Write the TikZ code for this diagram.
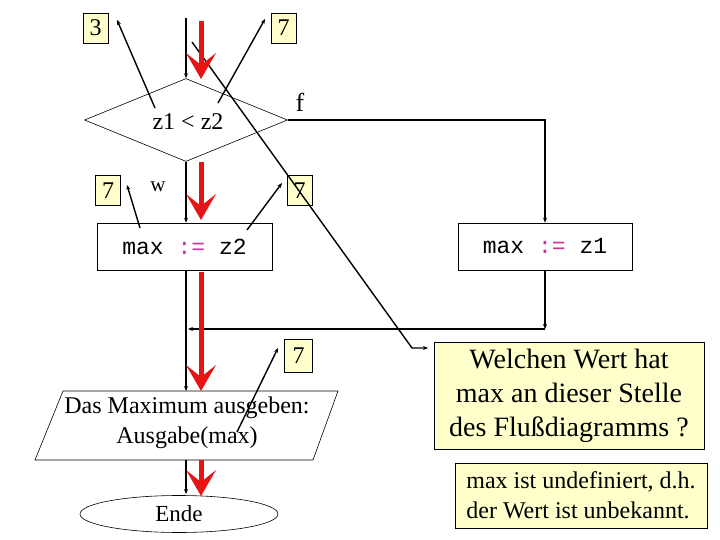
\documentclass[tikz,border=0pt]{standalone}
\usepackage{fontspec}
\setmainfont{Liberation Serif}
\setmonofont{Liberation Mono}
\usetikzlibrary{shapes.geometric,arrows.meta}
\definecolor{note}{HTML}{FFFFCC}
\definecolor{assign}{HTML}{CC3399}
\definecolor{flowred}{RGB}{230,20,20}
\begin{document}
\begin{tikzpicture}[x=1pt,y=-1pt,
  blk/.style={line width=1.4pt,-{Stealth[length=5pt,width=4pt]}},
  redarrow/.style={draw=flowred,line width=5pt,-{Stealth[length=26pt,width=30pt,inset=12pt,line width=0pt]}},
  lbl/.style={draw,fill=note,line width=0.6pt,font=\fontsize{24}{26}\selectfont,inner sep=0pt,minimum width=25pt,minimum height=30pt},
  proc/.style={draw,line width=0.6pt,font=\fontsize{23}{26}\selectfont\ttfamily,inner sep=0pt,minimum width=175pt,minimum height=47pt},
  dia/.style={draw,diamond,line width=0.6pt,aspect=2.45,inner sep=0pt,minimum width=203pt,minimum height=83pt},
  txt/.style={font=\fontsize{24}{30}\selectfont,align=center,inner sep=0pt}
]
\useasboundingbox (0,0) rectangle (720,540);
% label boxes
\node[lbl] (n3) at (95.5,28) {3};
\node[lbl] (n7a) at (283.5,28) {7};
\node[lbl] (n7b) at (108,190.5) {7};
\node[lbl] (n7c) at (299.5,190.5) {7};
\node[lbl,minimum width=28pt,minimum height=33pt] (n7d) at (298.5,356) {7};
% decision
\node[dia] (dia) at (186,120) {};
\node[font=\fontsize{24}{26}\selectfont,inner sep=0pt] (cond) at (188,122) {z1 < z2};
\node[font=\fontsize{26}{28}\selectfont,inner sep=0pt] (f) at (300,102) {f};
\node[font=\fontsize{21}{24}\selectfont,inner sep=0pt] (w) at (158,187) {w};
% processes
\node[proc] (mz2) at (184.5,246.5) {max \textcolor{assign}{:=} z2};
\node[proc,minimum width=174pt] (mz1) at (545,246.5) {max \textcolor{assign}{:=} z1};
% output parallelogram
\draw[line width=0.6pt] (63,391) coordinate (ptl) -- (338,391) -- (313,460) -- (35,460) coordinate (pbl) -- cycle;
\node[txt] (out) at (187,423) {Das Maximum ausgeben:\\Ausgabe(max)};
% end
\node[draw,ellipse,line width=0.6pt,minimum width=198pt,minimum height=37pt,inner sep=0pt,font=\fontsize{23}{26}\selectfont] (ende) at (179,514) {Ende};
% notes
\node[draw,fill=note,line width=0.6pt,minimum width=270pt,minimum height=107pt,inner sep=0pt,font=\fontsize{28}{34}\selectfont,align=center] (q) at (569,395.5) {Welchen Wert hat\\max an dieser Stelle\\des Flußdiagramms ?};
\node[draw,fill=note,line width=0.6pt,minimum width=252pt,minimum height=65pt,inner sep=0pt,font=\fontsize{24}{30}\selectfont,align=left] (ans) at (581,495.5) {max ist undefiniert, d.h.\\der Wert ist unbekannt.};
% coordinates
\coordinate (in) at (186,18);
\coordinate (join) at (545,329);
\coordinate (joinL) at (188,329);
\coordinate (ptop) at (186,391);
\coordinate (pbot) at (186,460);
\coordinate (etop) at (186,494);
% flow connectors
\draw[blk] (in) -- (dia.north);
\draw[blk] (dia.east) -| (mz1.north);
\draw[blk] (dia.south) -- (dia.south |- mz2.north);
\draw[blk] (mz1.south) -- (join);
\draw[blk] (join) -- (joinL);
\draw[blk] (dia.south |- mz2.south) -- (ptop);
\draw[blk] (pbot) -- (etop);
% pointer lines
\coordinate (s3) at (155,108); \coordinate (t3) at (117,20);
\coordinate (s7a) at (218,103); \coordinate (t7a) at (265,19);
\coordinate (s7b) at (140,228); \coordinate (t7b) at (127,185);
\coordinate (s7c) at (247,230); \coordinate (t7c) at (282,183);
\coordinate (s7d) at (237,432); \coordinate (t7d) at (278,348);
\coordinate (ls) at (192,42); \coordinate (lk) at (412,348); \coordinate (lq) at (428,348);
\draw[blk] (s3) -- (t3);
\draw[blk] (s7a) -- (t7a);
\draw[blk] (s7b) -- (t7b);
\draw[blk] (s7c) -- (t7c);
\draw[blk] (s7d) -- (t7d);
\draw[blk] (ls) -- (lk) -- (lq);
% red flow arrows
\coordinate (r1a) at (201,21); \coordinate (r1b) at (201,79);
\coordinate (r2a) at (201,162); \coordinate (r2b) at (201,220);
\coordinate (r3a) at (201,272); \coordinate (r3b) at (201,391);
\coordinate (r4a) at (201,460); \coordinate (r4b) at (201,496);
\draw[redarrow] (r1a) -- (r1b);
\draw[redarrow] (r2a) -- (r2b);
\draw[redarrow] (r3a) -- (r3b);
\draw[redarrow] (r4a) -- (r4b);
\end{tikzpicture}
\end{document}
